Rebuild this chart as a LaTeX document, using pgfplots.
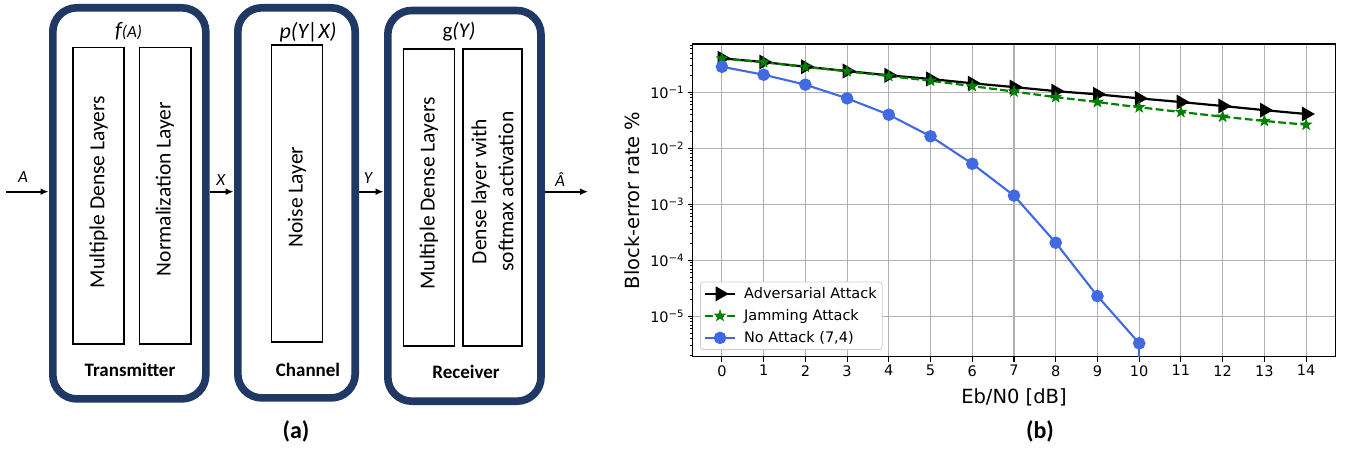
\documentclass[border=0pt]{standalone}
\usepackage{fontspec}
\setmainfont{Carlito}
\newfontfamily\dejavu{DejaVu Sans}
\usepackage{pgfplots}
\pgfplotsset{compat=1.18}
\usetikzlibrary{arrows.meta}

\definecolor{navy}{RGB}{31,56,100}
\definecolor{royal}{RGB}{65,105,225}
\definecolor{mplgreen}{RGB}{0,128,0}
\definecolor{gridgray}{RGB}{176,176,176}

% filled five-pointed star, like matplotlib's '*'
\pgfdeclareplotmark{fstar}{%
  \pgfpathmoveto{\pgfpointpolar{90}{\pgfplotmarksize}}%
  \pgfpathlineto{\pgfpointpolar{126}{0.4\pgfplotmarksize}}%
  \pgfpathlineto{\pgfpointpolar{162}{\pgfplotmarksize}}%
  \pgfpathlineto{\pgfpointpolar{198}{0.4\pgfplotmarksize}}%
  \pgfpathlineto{\pgfpointpolar{234}{\pgfplotmarksize}}%
  \pgfpathlineto{\pgfpointpolar{270}{0.4\pgfplotmarksize}}%
  \pgfpathlineto{\pgfpointpolar{306}{\pgfplotmarksize}}%
  \pgfpathlineto{\pgfpointpolar{342}{0.4\pgfplotmarksize}}%
  \pgfpathlineto{\pgfpointpolar{18}{\pgfplotmarksize}}%
  \pgfpathlineto{\pgfpointpolar{54}{0.4\pgfplotmarksize}}%
  \pgfpathclose
  \pgfusepathqfillstroke
}

\newcommand\fs[1]{\fontsize{#1}{#1}\selectfont}

\begin{document}
\begin{tikzpicture}[x=1pt,y=1pt]
\useasboundingbox (0,0) rectangle (1350,451);

%%% (a) block diagram
\tikzset{outer/.style={navy, line width=7.6pt, rounded corners=24pt, fill=white},
  inner/.style={black, line width=1.6pt, fill=white},
  arr/.style={black, line width=1.8pt, -{Latex[length=8pt,width=7pt]}},
  lay/.style={rotate=90, font=\fs{21.5}, align=center}}

\draw[outer] (52.8,52.1) rectangle (205.8,443.2);
\draw[outer] (237.8,53.1) rectangle (355.2,443.2);
\draw[outer] (387.8,49.8) rectangle (541,440.5);

\draw[inner] (73.2,107) rectangle (124,403.3);
\draw[inner] (139.3,107) rectangle (191,403.3);
\draw[inner] (271.4,109.3) rectangle (322.5,406);
\draw[inner] (403.6,105.3) rectangle (454.6,401.7);
\draw[inner] (463,105.3) rectangle (522,401.7);

\node[lay] at (98.6,259) {Multiple Dense Layers};
\node[lay] at (165,262) {Normalization Layer};
\node[lay] at (297,254) {Noise Layer};
\node[lay] at (429,257.5) {Multiple Dense Layers};
\node[lay, font=\fontsize{21.5}{27}\selectfont] at (492.5,259.5) {Dense layer with\\softmax activation};

\node[font=\fs{22}] at (128.6,419.3) {\itshape f\fs{17}(A)};
\node[font=\fs{22}] at (308,418.3) {\itshape p(Y|X)};
\node[font=\fs{21}] at (459,419.3) {g\itshape(Y)};

\node[font=\bfseries\fs{19}] at (130,81) {Transmitter};
\node[font=\bfseries\fs{19}] at (308,81) {Channel};
\node[font=\bfseries\fs{19}] at (466,79) {Receiver};

\draw[arr] (6,259.3) -- (48.5,259.3);
\draw[arr] (209.6,259.3) -- (233.5,259.3);
\draw[arr] (359,259.3) -- (383.5,259.3);
\draw[arr] (545,259.3) -- (588,259.3);
\node[font=\itshape\fs{17}] at (23,274) {A};
\node[font=\itshape\fs{17}] at (220.7,271) {X};
\node[font=\itshape\fs{17}] at (368,273) {Y};
\node[font=\itshape\fs{17}] at (560,271) {Â};

\node[font=\bfseries\fs{24}] at (296,20) {(a)};
\node[font=\bfseries\fs{24}] at (1040,20) {(b)};

%%% (b) block-error rate
\begin{axis}[
  at={(692.7pt,94.3pt)}, anchor=south west,
  scale only axis, width=642.6pt, height=312.7pt,
  xmin=-0.7, xmax=14.7,
  ymode=log, ymin=1.9e-6, ymax=0.729,
  xtick={0,...,14},
  ytick={1e-5,1e-4,1e-3,1e-2,1e-1},
  yticklabels={10\textsuperscript{−5},10\textsuperscript{−4},10\textsuperscript{−3},10\textsuperscript{−2},10\textsuperscript{−1}},
  minor ytick={2e-6,3e-6,4e-6,5e-6,6e-6,7e-6,8e-6,9e-6,
    2e-5,3e-5,4e-5,5e-5,6e-5,7e-5,8e-5,9e-5,
    2e-4,3e-4,4e-4,5e-4,6e-4,7e-4,8e-4,9e-4,
    2e-3,3e-3,4e-3,5e-3,6e-3,7e-3,8e-3,9e-3,
    2e-2,3e-2,4e-2,5e-2,6e-2,7e-2,8e-2,9e-2,
    2e-1,3e-1,4e-1,5e-1,6e-1,7e-1},
  grid=major,
  major grid style={gridgray, line width=1.1pt},
  minor grid style={draw=none},
  axis line style={line width=1.1pt},
  tick align=outside, tick pos=left,
  major tick length=5pt, minor tick length=3pt,
  major tick style={black, line width=1.1pt},
  minor tick style={black, line width=0.8pt},
  /pgf/number format/assume math mode=true,
  tick label style={font=\dejavu\fs{14.5}},
  xlabel={Eb/N0 [dB]},
  ylabel={Block-error rate \%},
  label style={font=\dejavu\fs{19.5}},
  xlabel style={at={(axis description cs:0.5,-0.13)}, anchor=center},
  ylabel style={at={(axis description cs:-0.094,0.5)}, anchor=center},
  legend cell align=left,
  legend style={at={(axis description cs:0.0114,0.0214)}, anchor=south west,
    font=\dejavu\fs{14.5}, draw=gray!40, line width=0.8pt, rounded corners=3pt,
    fill=white, row sep=5.5pt, inner sep=3.5pt,
    /tikz/every odd column/.append style={column sep=6pt}},
  legend image code/.code={\draw[mark repeat=2,mark phase=2,#1]
    plot coordinates {(0pt,0pt) (15pt,0pt) (30pt,0pt)};},
]

\addplot[black, line width=2.2pt, mark=triangle*, mark size=6.5pt,
  mark options={solid, rotate=-90, fill=black}] coordinates {
(0,0.405) (1,0.347) (2,0.286) (3,0.240) (4,0.201) (5,0.173) (6,0.145)
(7,0.124) (8,0.105) (9,0.092) (10,0.078) (11,0.067) (12,0.057) (13,0.048) (14,0.041)
};
\addlegendentry{Adversarial Attack}

\addplot[mplgreen, line width=2.2pt, dash pattern=on 7.8pt off 3.4pt,
  mark=fstar, mark size=5.5pt, mark options={solid, fill=mplgreen, line width=0.8pt}] coordinates {
(0,0.400) (1,0.345) (2,0.285) (3,0.237) (4,0.195) (5,0.161) (6,0.129)
(7,0.103) (8,0.082) (9,0.067) (10,0.054) (11,0.0445) (12,0.0367) (13,0.0308) (14,0.0264)
};
\addlegendentry{Jamming Attack}

\addplot[royal, line width=2.1pt, mark=*, mark size=5.2pt,
  mark options={solid, fill=royal}] coordinates {
(0,0.286) (1,0.206) (2,0.137) (3,0.078) (4,0.0398) (5,0.0164) (6,0.0053)
(7,0.00143) (8,0.000206) (9,0.000023) (10,0.0000033)
};
\addlegendentry{No Attack (7,4)}

% the curve drops to zero after 10 dB and leaves the axis
\addplot[royal, line width=2.1pt, forget plot] coordinates {
(10,0.0000033) (10,0.0000001)
};
\end{axis}
\end{tikzpicture}
\end{document}
